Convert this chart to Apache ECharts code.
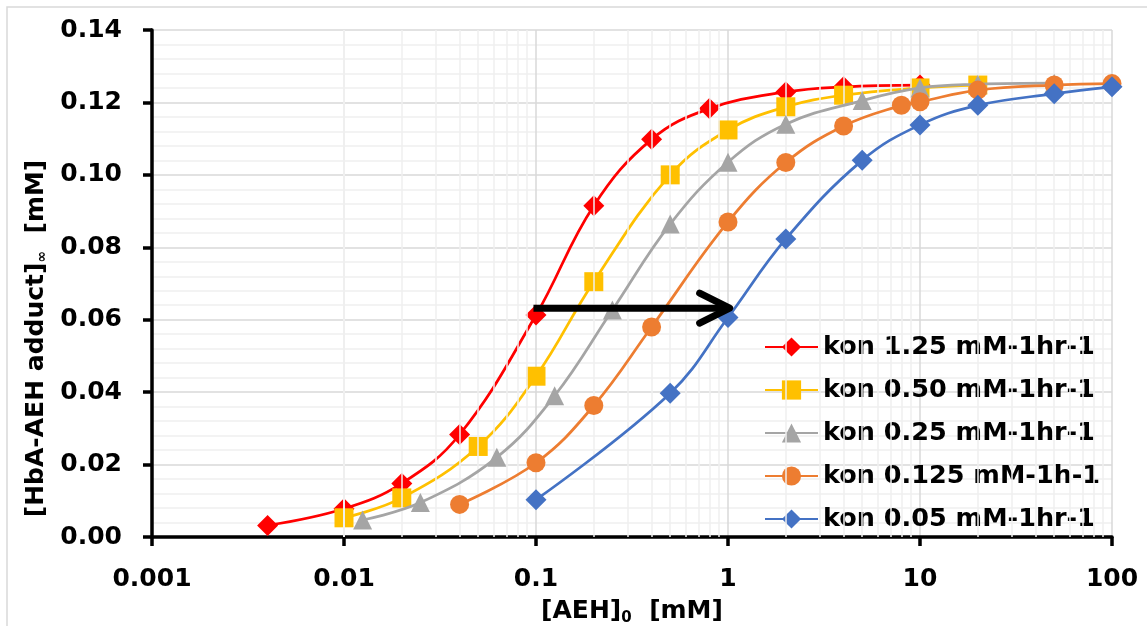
<!DOCTYPE html>
<html>
<head>
<meta charset="utf-8">
<script src="https://cdn.jsdelivr.net/npm/echarts@6/dist/echarts.min.js"></script>
<style>
  html, body { margin: 0; padding: 0; background: #fff; }
  #chart { width: 1147px; height: 626px; }
</style>
</head>
<body>
<div id="chart"></div>
<script>
// Saturation curves of HbA-AEH adduct vs initial AEH concentration
const seriesNames = [
  'kon 1.25 mM-1hr-1',
  'kon 0.50 mM-1hr-1',
  'kon 0.25 mM-1hr-1',
  'kon 0.125 mM-1h-1',
  'kon 0.05 mM-1hr-1'
];
const seriesColors = ['#FF0000', '#FFC000', '#A5A5A5', '#ED7D31', '#4472C4'];
const seriesSymbols = ['diamond', 'rect', 'triangle', 'circle', 'diamond'];

const x125 = [0.004, 0.01, 0.02, 0.04, 0.1, 0.2, 0.4, 0.8, 2, 4, 10];
const y125 = [0.0032, 0.0078, 0.0148, 0.0283, 0.0613, 0.0915, 0.1098, 0.1183, 0.1229, 0.1243, 0.1248];

const x050 = [0.01, 0.02, 0.05, 0.1, 0.2, 0.5, 1, 2, 4, 10, 20];
const y050 = [0.0053, 0.0108, 0.0250, 0.0444, 0.0705, 0.1000, 0.1124, 0.1188, 0.1220, 0.1240, 0.1248];

const x025 = [0.0125, 0.025, 0.0625, 0.125, 0.25, 0.5, 1, 2, 5, 10, 20, 50];
const y025 = [0.0047, 0.0095, 0.0220, 0.0390, 0.0627, 0.0864, 0.1035, 0.1140, 0.1205, 0.1240, 0.1250, 0.1253];

const x0125 = [0.04, 0.1, 0.2, 0.4, 1, 2, 4, 8, 10, 20, 50, 100];
const y0125 = [0.0090, 0.0205, 0.0363, 0.0580, 0.0870, 0.1034, 0.1135, 0.1192, 0.1202, 0.1234, 0.1248, 0.1252];

const x005 = [0.1, 0.5, 1, 2, 5, 10, 20, 50, 100];
const y005 = [0.0103, 0.0397, 0.0606, 0.0823, 0.1040, 0.1138, 0.1192, 0.1224, 0.1243];

const xTickLabels = ['0.001', '0.01', '0.1', '1', '10', '100'];
const xMinorGrid = [];
[0.001, 0.01, 0.1, 1, 10].forEach(function (d) {
  for (let k = 2; k <= 9; k++) xMinorGrid.push(+(d * k).toPrecision(3));
});

// horizontal arrow from the 1.25 curve to the 0.05 curve at half saturation
const arrowFrom = [0.097, 0.0632];
const arrowTo = [1.02, 0.0632];

const xs = [x125, x050, x025, x0125, x005];
const ys = [y125, y050, y025, y0125, y005];

const FONT = 'DejaVu Sans';

const dataSeries = seriesNames.map(function (name, i) {
  return {
    name: name,
    type: 'line',
    smooth: 0.4,
    z: 3 + i,
    data: xs[i].map(function (x, j) { return [x, ys[i][j]]; }),
    symbol: seriesSymbols[i],
    symbolSize: seriesSymbols[i] === 'diamond' ? 21 : 19,
    showAllSymbol: true,
    lineStyle: { color: seriesColors[i], width: 2.75 },
    itemStyle: { color: seriesColors[i] },
    emphasis: { disabled: true }
  };
});

const gridSeries = {
  type: 'line',
  data: [],
  z: 1,
  silent: true,
  markLine: {
    silent: true,
    symbol: ['none', 'none'],
    label: { show: false },
    lineStyle: { color: '#EFEFEF', width: 1.5, type: 'solid' },
    emphasis: { disabled: true },
    data: xMinorGrid.map(function (v) { return { xAxis: v }; })
  }
};

const chart = echarts.init(document.getElementById('chart'), null, { renderer: 'canvas' });

chart.setOption({
  animation: false,
  backgroundColor: '#fff',
  textStyle: { fontFamily: FONT },
  grid: { left: 152, right: 35, top: 30, bottom: 89, containLabel: false, outerBoundsMode: 'none' },
  legend: {
    data: seriesNames,
    orient: 'vertical',
    left: 764,
    top: 332,
    padding: 0,
    itemGap: 13,
    itemWidth: 53,
    itemHeight: 24,
    textStyle: { fontFamily: FONT, fontWeight: 'bold', fontSize: 25.5, color: '#000', lineHeight: 30 }
  },
  xAxis: {
    type: 'log',
    logBase: 10,
    min: 0.001,
    max: 100,
    splitNumber: 5,
    name: '{t|[AEH]}{s|0}{t|  [mM]}',
    nameLocation: 'middle',
    nameGap: 56,
    nameTextStyle: {
      rich: {
        t: { fontFamily: FONT, fontWeight: 'bold', fontSize: 25, color: '#000', lineHeight: 30 },
        s: { fontFamily: FONT, fontWeight: 'bold', fontSize: 15, color: '#000', lineHeight: 30, padding: [14, 0, 0, 0] }
      }
    },
    axisLine: { show: true, onZero: false, lineStyle: { color: '#000', width: 3.5 } },
    axisTick: { show: true, inside: false, length: 9, lineStyle: { color: '#000', width: 3.5 } },
    axisLabel: {
      margin: 30,
      fontFamily: FONT, fontWeight: 'bold', fontSize: 25, color: '#000',
      formatter: function (v) { return xTickLabels[Math.round(Math.log10(v)) + 3]; }
    },
    splitLine: { show: true, lineStyle: { color: '#D9D9D9', width: 1.5 } },
    minorTick: { show: false },
    minorSplitLine: { show: false }
  },
  yAxis: {
    type: 'value',
    min: 0,
    max: 0.14,
    interval: 0.02,
    name: '{t|[HbA-AEH adduct]}{s|∞}{t|  [mM]}',
    nameLocation: 'middle',
    nameRotate: 90,
    nameGap: 94,
    nameTextStyle: {
      padding: [0, 110, 0, 0],
      rich: {
        t: { fontFamily: FONT, fontWeight: 'bold', fontSize: 25, color: '#000', lineHeight: 30 },
        s: { fontFamily: FONT, fontWeight: 'bold', fontSize: 14, color: '#000', lineHeight: 30, padding: [12, 0, 0, 0] }
      }
    },
    axisLine: { show: true, lineStyle: { color: '#000', width: 3.5 } },
    axisTick: { show: true, inside: false, length: 9, lineStyle: { color: '#000', width: 3.5 } },
    axisLabel: {
      margin: 30,
      fontFamily: FONT, fontWeight: 'bold', fontSize: 25, color: '#000',
      formatter: function (v) { return v.toFixed(2); }
    },
    splitLine: { show: true, lineStyle: { color: '#D9D9D9', width: 1.5 } },
    minorTick: { show: false, splitNumber: 5 },
    minorSplitLine: { show: true, lineStyle: { color: '#EFEFEF', width: 1.5 } }
  },
  series: [gridSeries].concat(dataSeries)
});

// chart frame and the annotation arrow, placed through the axis scales
const p0 = chart.convertToPixel({ xAxisIndex: 0, yAxisIndex: 0 }, arrowFrom);
const p1 = chart.convertToPixel({ xAxisIndex: 0, yAxisIndex: 0 }, arrowTo);
chart.setOption({
  graphic: [
    {
      type: 'rect',
      silent: true,
      shape: { x: 7, y: 7, width: 1300, height: 800 },
      style: { fill: 'none', stroke: '#D9D9D9', lineWidth: 1.5 },
      z: 0
    },
    {
      type: 'line',
      silent: true,
      z: 100,
      shape: { x1: p0[0], y1: p0[1], x2: p1[0] - 3, y2: p1[1] },
      style: { stroke: '#000', lineWidth: 7, lineCap: 'butt' }
    },
    {
      type: 'polyline',
      silent: true,
      z: 100,
      shape: { points: [[p1[0] - 30, p1[1] - 15], [p1[0], p1[1]], [p1[0] - 30, p1[1] + 15]] },
      style: { stroke: '#000', fill: 'none', lineWidth: 7, lineCap: 'round', lineJoin: 'round' }
    }
  ]
});
</script>
</body>
</html>
